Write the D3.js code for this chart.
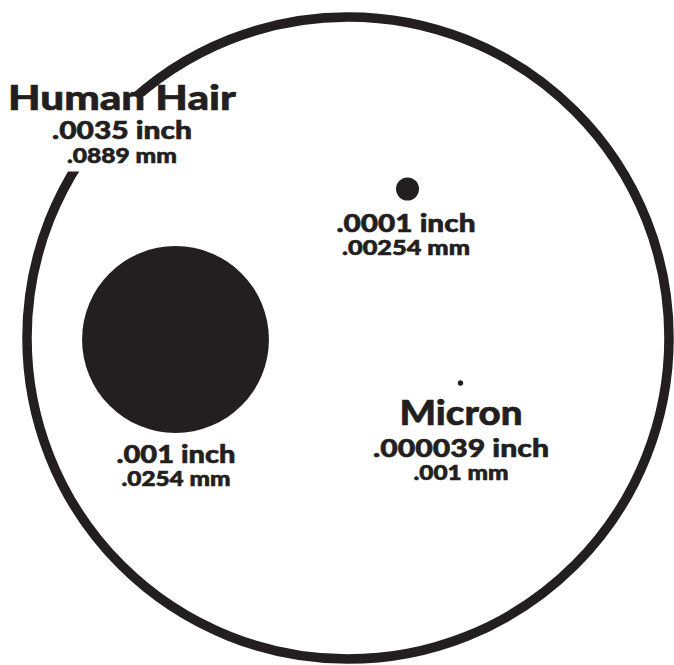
<!DOCTYPE html>
<html>
<head>
<meta charset="utf-8">
<script src="https://cdn.jsdelivr.net/npm/d3@7"></script>
<style>
  html, body { margin: 0; padding: 0; background: #fff; }
  svg { display: block; }
  text { font-family: "Lato", "DejaVu Sans", sans-serif; font-weight: 900; fill: #231f20; stroke: #231f20; stroke-width: 0.6; }
</style>
</head>
<body>
<svg id="chart" width="674" height="665"></svg>
<script>
// ---- data ----
const names = ["Human Hair", "", "", "Micron"];
const inches = [0.0035, 0.001, 0.0001, 0.000039];
const inchLabels = [".0035 inch", ".001 inch", ".0001 inch", ".000039 inch"];
const mmLabels = [".0889 mm", ".0254 mm", ".00254 mm", ".001 mm"];

// ---- layout ----
const W = 674, H = 665;
const ink = "#231f20";
const centers = [[348, 338], [175.5, 339.5], [407.5, 189], [460.5, 383]];
// label blocks: [x center, name baseline, inch baseline, mm baseline]
const labelPos = [
  [122, 110, 139, 163],
  [176, null, 463, 486],
  [406, null, 232, 255],
  [461, 425, 457, 480]
];
const nameW = [228, 0, 0, 123];
const inchW = [140, 119, 139, 176];
const mmW = [110, 109, 128, 95];

// size scale (small particles drawn slightly enlarged for visibility)
const r = d3.scaleLinear()
  .domain([0.000039, 0.0001, 0.0035])
  .range([2.7, 11.5, 321]);

const svg = d3.select("#chart");
svg.append("rect").attr("width", W).attr("height", H).attr("fill", "#fff");

const data = inches.map((v, i) => ({
  v, name: names[i], inch: inchLabels[i], mm: mmLabels[i],
  c: centers[i], lp: labelPos[i], nw: nameW[i], iw: inchW[i], mw: mmW[i]
}));

// hair: outline ring
svg.append("circle")
  .attr("cx", data[0].c[0]).attr("cy", data[0].c[1])
  .attr("r", r(data[0].v))
  .attr("fill", "none").attr("stroke", ink).attr("stroke-width", 9.5);

// white knockout behind hair label
svg.append("rect")
  .attr("x", 0).attr("y", 96.5).attr("width", 250).attr("height", 75)
  .attr("fill", "#fff");

// particles: filled discs
svg.selectAll("circle.p").data(data.slice(1)).enter().append("circle")
  .attr("class", "p")
  .attr("cx", d => d.c[0]).attr("cy", d => d.c[1])
  .attr("r", d => r(d.v))
  .attr("fill", ink);

// labels
data.forEach(d => {
  const g = svg.append("g");
  if (d.name) {
    g.append("text").attr("x", d.lp[0]).attr("y", d.lp[1])
      .attr("text-anchor", "middle").attr("font-size", 35)
      .attr("textLength", d.nw).attr("lengthAdjust", "spacingAndGlyphs")
      .text(d.name);
  }
  g.append("text").attr("x", d.lp[0]).attr("y", d.lp[2])
    .attr("text-anchor", "middle").attr("font-size", 24)
    .attr("textLength", d.iw).attr("lengthAdjust", "spacingAndGlyphs")
    .text(d.inch);
  g.append("text").attr("x", d.lp[0]).attr("y", d.lp[3])
    .attr("text-anchor", "middle").attr("font-size", 20)
    .attr("textLength", d.mw).attr("lengthAdjust", "spacingAndGlyphs")
    .text(d.mm);
});
</script>
</body>
</html>
